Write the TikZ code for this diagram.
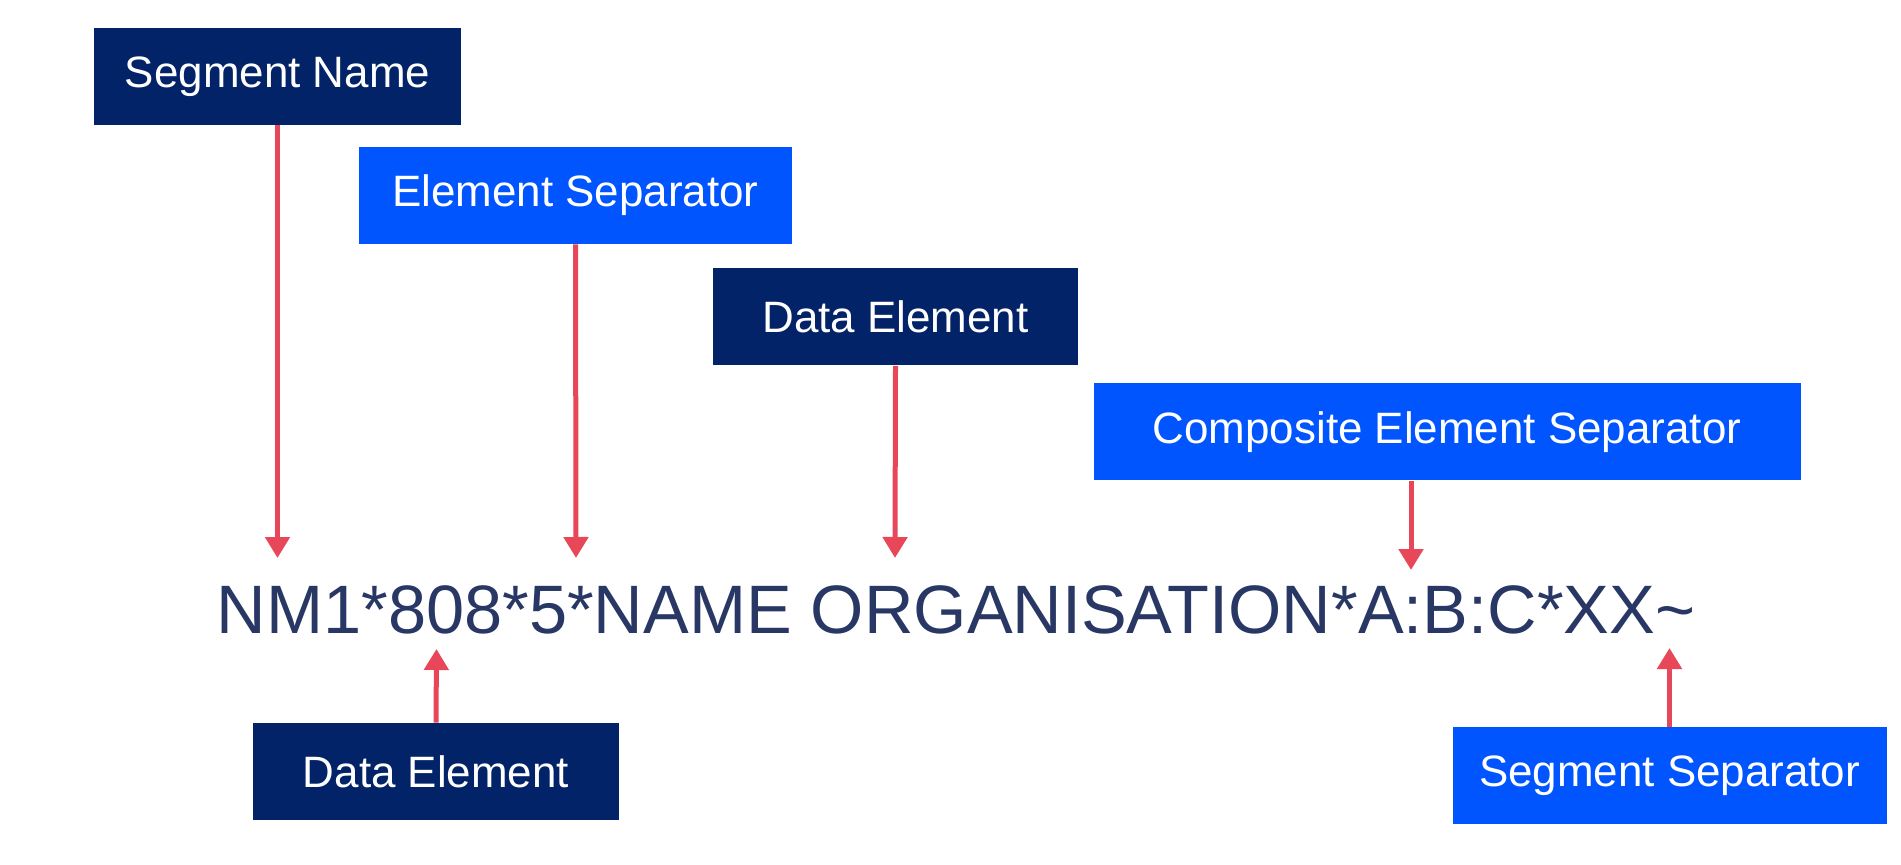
\documentclass[tikz,border=0pt]{standalone}
\usepackage{fontspec}
\setmainfont{Liberation Sans}
\usepackage{tikz}
\usetikzlibrary{arrows.meta, calc}

\definecolor{navy}{RGB}{3,35,104}
\definecolor{brightblue}{RGB}{0,85,255}
\definecolor{pointer}{RGB}{232,70,89}
\definecolor{segtext}{RGB}{40,55,100}

\tikzset{
  label box/.style={text=white, minimum height=1.94cm, inner sep=0pt,
    font=\fontsize{25}{30}\selectfont},
  dark box/.style={label box, fill=navy},
  light box/.style={label box, fill=brightblue},
  pointer arrow/.style={draw=pointer, line width=0.1cm,
    -{Triangle[length=0.42cm, width=0.48cm]}}
}

\begin{document}
\begin{tikzpicture}
\useasboundingbox (0,0) rectangle (38.02,-17.30);

% the segment
\node[anchor=base west, inner sep=0pt, text=segtext,
  font=\fontsize{39}{44}\selectfont] (seg) at (4.33,-12.66)
  {NM1*808*5*NAME ORGANISATION*A:B:C*XX\textasciitilde};

% labels
\node[dark box, minimum width=7.34cm] (segname) at (5.55,-1.53) {Segment Name};
\node[light box, minimum width=8.66cm] (elemsep) at (11.51,-3.91) {Element Separator};
\node[dark box, minimum width=7.30cm] (datatop) at (17.91,-6.34) {Data Element};
\node[light box, minimum width=14.14cm] (compsep) at (28.94,-8.64) {Composite Element Separator};
\node[dark box, minimum width=7.32cm] (databot) at (8.72,-15.43) {Data Element};
\node[light box, minimum width=8.68cm] (segsep) at (33.39,-15.51) {Segment Separator};

% arrow tips on the segment
\coordinate (tipA) at (5.55,-11.16);
\coordinate (tipB) at (11.52,-11.16);
\coordinate (tipC) at (17.90,-11.16);
\coordinate (tipD) at (28.22,-11.40);
\coordinate (tipE) at (8.73,-12.98);
\coordinate (tipF) at (33.39,-12.96);

\draw[pointer arrow] (segname.south) -- (tipA);
\draw[pointer arrow] (elemsep.south) -- (tipB);
\draw[pointer arrow] (datatop.south) -- (tipC);
\draw[pointer arrow] (tipD |- compsep.south) -- (tipD);
\draw[pointer arrow] (databot.north) -- (tipE);
\draw[pointer arrow] (segsep.north) -- (tipF);
\end{tikzpicture}
\end{document}
